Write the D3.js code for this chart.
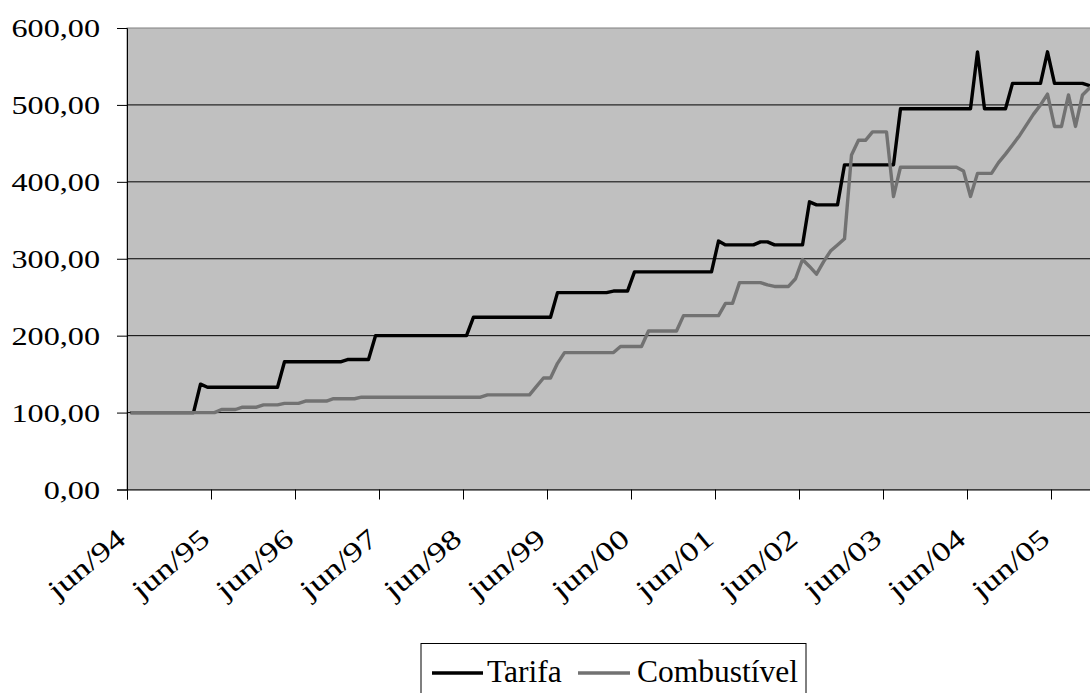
<!DOCTYPE html>
<html>
<head>
<meta charset="utf-8">
<script src="https://d3js.org/d3.v7.min.js"></script>
<style>
  body { margin: 0; background: #fff; }
  text { font-family: "Liberation Serif", "Times New Roman", serif; fill: #000; }
</style>
</head>
<body>
<div class="chart"></div>
<script>
// Tarifa x Combustível, monthly index (jun/94 = 100)

// month index 0 = jun/94 ... 138 = dec/05
var tickMonths = [0, 12, 24, 36, 48, 60, 72, 84, 96, 108, 120, 132];
var tickLabels = ["jun/94", "jun/95", "jun/96", "jun/97", "jun/98", "jun/99",
                  "jun/00", "jun/01", "jun/02", "jun/03", "jun/04", "jun/05"];
var yTicks = [0, 100, 200, 300, 400, 500, 600];
var seriesNames = ["Tarifa", "Combustível"];

var tarifa = [
  100, 100, 100, 100, 100, 100, 100, 100, 100, 100,
  137, 133, 133, 133, 133, 133, 133, 133, 133, 133,
  133, 133, 166, 166, 166, 166, 166, 166, 166, 166,
  166, 169, 169, 169, 169, 200, 200, 200, 200, 200,
  200, 200, 200, 200, 200, 200, 200, 200, 200, 224,
  224, 224, 224, 224, 224, 224, 224, 224, 224, 224,
  224, 256, 256, 256, 256, 256, 256, 256, 256, 258,
  258, 258, 283, 283, 283, 283, 283, 283, 283, 283,
  283, 283, 283, 283, 323, 318, 318, 318, 318, 318,
  322, 322, 318, 318, 318, 318, 318, 374, 370, 370,
  370, 370, 422, 422, 422, 422, 422, 422, 422, 422,
  495, 495, 495, 495, 495, 495, 495, 495, 495, 495,
  495, 569, 495, 495, 495, 495, 528, 528, 528, 528,
  528, 569, 528, 528, 528, 528, 528, 525, 525
];

var combustivel = [
  100, 100, 100, 100, 100, 100, 100, 100, 100, 100,
  100, 100, 100, 104, 104, 104, 107, 107, 107, 110,
  110, 110, 112, 112, 112, 115, 115, 115, 115, 118,
  118, 118, 118, 120, 120, 120, 120, 120, 120, 120,
  120, 120, 120, 120, 120, 120, 120, 120, 120, 120,
  120, 123, 123, 123, 123, 123, 123, 123, 134, 145,
  145, 164, 178, 178, 178, 178, 178, 178, 178, 178,
  186, 186, 186, 186, 206, 206, 206, 206, 206, 226,
  226, 226, 226, 226, 226, 242, 242, 269, 269, 269,
  269, 266, 264, 264, 264, 274, 299, 290, 280, 296,
  310, 318, 326, 435, 454, 454, 465, 465, 465, 381,
  419, 419, 419, 419, 419, 419, 419, 419, 419, 414,
  381, 411, 411, 411, 425, 436, 448, 460, 474, 488,
  500, 514, 472, 472, 513, 472, 513, 522, 527
];

var svgWidth = 1090;
var svgHeight = 693;

// plot area (right side runs past the picture edge)
var plotLeft = 127;
var plotTop = 28;
var plotBottom = 489.5;
var monthWidth = 7;
var nMonths = tarifa.length;

var svg = d3.select(".chart")
  .append("svg")
  .attr("width", svgWidth)
  .attr("height", svgHeight);

var x = d3.scaleLinear()
  .domain([0, nMonths])
  .range([plotLeft, plotLeft + nMonths * monthWidth]);

var y = d3.scaleLinear()
  .domain([0, 600])
  .range([plotBottom, plotTop]);

var br = d3.formatLocale({ decimal: ",", thousands: ".", grouping: [3], currency: ["R$", ""] });
var fmt = br.format(".2f");

// gray plot background
svg.append("rect")
  .attr("x", x(0))
  .attr("y", y(600))
  .attr("width", x(nMonths) - x(0))
  .attr("height", y(0) - y(600))
  .attr("fill", "#c0c0c0")
  .attr("stroke", "#808080")
  .attr("stroke-width", 1);

// gridlines
svg.append("g")
  .selectAll("line")
  .data(yTicks.filter(d => d > 0 && d < 600))
  .enter()
  .append("line")
  .attr("x1", x(0))
  .attr("x2", x(nMonths))
  .attr("y1", d => y(d))
  .attr("y2", d => y(d))
  .attr("stroke", "#000")
  .attr("stroke-width", 1);

// y axis
var yAxis = svg.append("g")
  .attr("transform", `translate(${plotLeft}, 0)`)
  .call(d3.axisLeft(y).tickValues(yTicks).tickSize(10).tickFormat(fmt));

yAxis.select(".domain").attr("stroke", "#000");
yAxis.selectAll("text")
  .attr("font-size", 26)
  .attr("font-family", "Liberation Serif")
  .attr("x", -27 / 1.24)
  .attr("dy", "0.33em")
  .attr("transform", "scale(1.24,1)");

// x axis
var xAxis = svg.append("g")
  .attr("transform", `translate(0, ${plotBottom})`)
  .call(d3.axisBottom(x).tickValues(tickMonths).tickSize(10)
    .tickFormat((d, i) => tickLabels[i]));

xAxis.select(".domain").attr("stroke", "#000");
xAxis.selectAll("text")
  .attr("font-size", 27.5)
  .attr("font-family", "Liberation Serif")
  .attr("text-anchor", "end")
  .attr("x", 0)
  .attr("y", 0)
  .attr("dy", 0)
  .attr("transform", "translate(0,52) rotate(-40) scale(1.3,1)");

// series lines
var line = d3.line()
  .x((d, i) => x(i + 0.5))
  .y(d => y(d));

var colors = ["#000000", "#727272"];

[tarifa, combustivel].forEach(function(data, k) {
  svg.append("path")
    .datum(data)
    .attr("fill", "none")
    .attr("stroke", colors[k])
    .attr("stroke-width", 3.4)
    .attr("stroke-linejoin", "round")
    .attr("d", line);
});

// legend
var legend = svg.append("g");

legend.append("rect")
  .attr("x", 421)
  .attr("y", 643.5)
  .attr("width", 385)
  .attr("height", 70)
  .attr("fill", "#fff")
  .attr("stroke", "#000")
  .attr("stroke-width", 1);

var legendItems = [
  { x1: 432, x2: 483, tx: 487 },
  { x1: 578, x2: 630, tx: 637 }
];

legendItems.forEach(function(item, k) {
  legend.append("line")
    .attr("x1", item.x1)
    .attr("x2", item.x2)
    .attr("y1", 673)
    .attr("y2", 673)
    .attr("stroke", colors[k])
    .attr("stroke-width", 3.4);
  legend.append("text")
    .attr("x", item.tx)
    .attr("y", 682)
    .attr("font-size", 31.5)
    .text(seriesNames[k]);
});
</script>
</body>
</html>
